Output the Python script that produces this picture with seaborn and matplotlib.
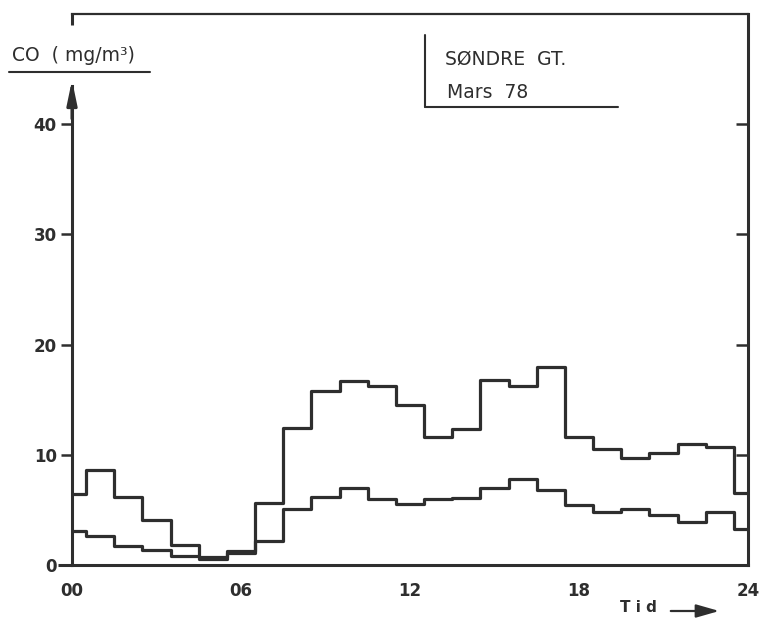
import matplotlib
matplotlib.use("Agg")
import matplotlib.pyplot as plt
import seaborn as sns
import pandas as pd

hours = list(range(25))
upper = [6.4, 8.6, 6.2, 4.1, 1.8, 0.75, 1.3, 5.6, 12.4, 15.8, 16.7, 16.2, 14.5,
         11.6, 12.3, 16.8, 16.2, 18.0, 11.6, 10.5, 9.7, 10.2, 11.0, 10.7, 6.5]
lower = [3.1, 2.6, 1.7, 1.35, 0.8, 0.5, 1.1, 2.2, 5.1, 6.2, 6.95, 5.95, 5.5,
         5.95, 6.05, 6.95, 7.8, 6.85, 5.4, 4.85, 5.1, 4.55, 3.9, 4.85, 3.3]
xticks = [0, 6, 12, 18, 24]
xticklabels = ["00", "06", "12", "18", "24"]
yticks = [0, 10, 20, 30, 40]

df = pd.DataFrame({
    "Tid": hours * 2,
    "CO": upper + lower,
    "serie": ["upper"] * len(hours) + ["lower"] * len(hours),
})

sns.set_theme(style="white")
plt.rcParams["font.family"] = ["DejaVu Sans"]
ink = "#2e2e2e"

fig = plt.figure(figsize=(7.59, 6.23), dpi=100)
ax = fig.add_axes([72 / 759, 1 - 565 / 623, (748 - 72) / 759, (565 - 14) / 623])

sns.lineplot(data=df, x="Tid", y="CO", hue="serie", units="serie", estimator=None,
             palette={"upper": ink, "lower": ink}, legend=False,
             drawstyle="steps-mid", linewidth=2.3, ax=ax)

ax.set_xlim(0, 24)
ax.set_ylim(0, 50)
ax.set_xticks(xticks)
ax.set_xticklabels(xticklabels)
ax.set_yticks(yticks)
ax.set_xlabel("")
ax.set_ylabel("")
ax.tick_params(axis="both", direction="out", length=8, width=1.8, color=ink,
               labelsize=12, labelcolor=ink, pad=3)
for lab in ax.get_xticklabels() + ax.get_yticklabels():
    lab.set_fontweight("bold")
ax.tick_params(axis="x", pad=4)

for side in ["left", "bottom", "right", "top"]:
    ax.spines[side].set_color(ink)
    ax.spines[side].set_linewidth(2.2)
ax.spines["left"].set_bounds(0, 43.5)
ax.spines["top"].set_linewidth(1.6)

# right-side inward ticks
ax2 = ax.twinx()
ax2.set_ylim(0, 50)
ax2.set_yticks(yticks[1:])
ax2.tick_params(axis="y", direction="in", length=9, width=1.8, color=ink,
                labelright=False)
for side in ["left", "bottom", "right", "top"]:
    ax2.spines[side].set_visible(False)
ax2.grid(False)

# arrowhead on y-axis, small stub at top-left, bottom axis extension
ax.annotate("", xy=(0, 44), xytext=(0, 40.5),
            arrowprops=dict(arrowstyle="-|>,head_length=1.2,head_width=0.25",
                            color=ink, lw=2.2, shrinkA=0, shrinkB=0),
            annotation_clip=False)
ax.plot([0, 0], [49.0, 50], color=ink, lw=2.2, clip_on=False, solid_capstyle="butt")
ax.plot([-0.5, 0], [0, 0], color=ink, lw=2.2, clip_on=False, solid_capstyle="butt")

# y label with underline
fig.text(12 / 759, 1 - 61 / 623, "CO  ( mg/m\u00b3)", fontsize=13.5, color=ink,
         ha="left", va="baseline")
fig.add_artist(plt.Line2D([9 / 759, 150 / 759], [1 - 72 / 623, 1 - 72 / 623],
                          color=ink, lw=1.5))

# station box
fig.text(445 / 759, 1 - 65 / 623, "S\u00d8NDRE  GT.", fontsize=13.5, color=ink,
         ha="left", va="baseline")
fig.text(447 / 759, 1 - 98 / 623, "Mars  78", fontsize=13.5, color=ink,
         ha="left", va="baseline")
fig.add_artist(plt.Line2D([425 / 759, 425 / 759], [1 - 35 / 623, 1 - 107 / 623],
                          color=ink, lw=1.5))
fig.add_artist(plt.Line2D([425 / 759, 618 / 759], [1 - 107 / 623, 1 - 107 / 623],
                          color=ink, lw=1.5))

# x label with arrow
fig.text(620 / 759, 1 - 612 / 623, "T i d", fontsize=11, fontweight="bold",
         color=ink, ha="left", va="baseline")
fig.add_artist(matplotlib.patches.FancyArrowPatch(
    (668 / 759, 1 - 611 / 623), (722 / 759, 1 - 611 / 623),
    transform=fig.transFigure, arrowstyle="-|>,head_length=7,head_width=2",
    color=ink, lw=1.6, mutation_scale=2))

fig.savefig("out.png", dpi=100, facecolor="white")
